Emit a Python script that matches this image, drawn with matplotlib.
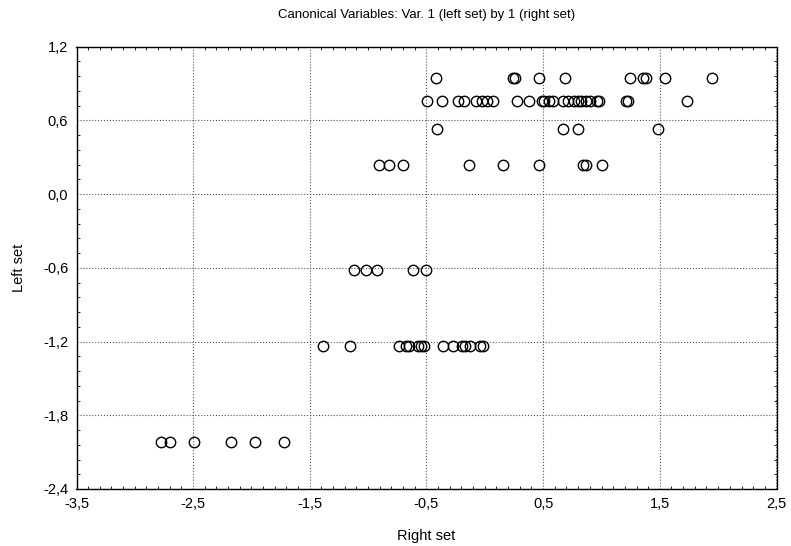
import numpy as np
import matplotlib
matplotlib.use("Agg")
from matplotlib import pyplot as plt
from matplotlib.ticker import MultipleLocator, FuncFormatter

plt.rcParams['font.family'] = ['Liberation Sans', 'DejaVu Sans']

# Canonical scores, one list per left-set level
right_095 = [-0.419, 0.244, 0.258, 0.467, 0.684, 1.244, 1.353, 1.382, 1.547, 1.947]
right_076 = [-0.496, -0.367, -0.230, -0.179, -0.072, -0.024, 0.018, 0.066, 0.278, 0.379,
             0.490, 0.510, 0.550, 0.587, 0.670, 0.717, 0.764, 0.798, 0.824, 0.867,
             0.901, 0.961, 0.978, 1.210, 1.227, 1.733]
right_053 = [-0.407, 0.672, 0.801, 1.482]
right_024 = [-0.907, -0.821, -0.699, -0.136, 0.153, 0.464, 0.844, 0.864, 1.007]
right_m062 = [-1.119, -1.021, -0.927, -0.613, -0.507]
right_m124 = [-1.390, -1.156, -0.733, -0.676, -0.650, -0.570, -0.547, -0.522, -0.361,
              -0.270, -0.193, -0.170, -0.127, -0.042, -0.018]
right_m202 = [-2.776, -2.699, -2.490, -2.178, -1.970, -1.721]

left_levels = [0.942, 0.76, 0.527, 0.236, -0.62, -1.239, -2.019]
right_groups = [right_095, right_076, right_053, right_024, right_m062, right_m124, right_m202]

x_ticks = [-3.5, -2.5, -1.5, -0.5, 0.5, 1.5, 2.5]
y_ticks = [-2.4, -1.8, -1.2, -0.6, 0.0, 0.6, 1.2]

x = np.concatenate([np.array(g) for g in right_groups])
y = np.concatenate([np.full(len(g), lv) for g, lv in zip(right_groups, left_levels)])

fig = plt.figure(figsize=(7.91, 5.46), dpi=100)
ax = fig.add_axes([76.5 / 791, 1 - 489 / 546, 700 / 791, (489 - 46.7) / 546])

ax.plot(x, y, 'o', mfc='none', mec='black', mew=1.0, ms=7.5, zorder=3)

ax.set_xlim(-3.5, 2.5)
ax.set_ylim(-2.4, 1.2)
ax.set_xticks(x_ticks)
ax.set_yticks(y_ticks)
ax.xaxis.set_minor_locator(MultipleLocator(0.1))
ax.yaxis.set_minor_locator(MultipleLocator(0.12))
comma = FuncFormatter(lambda v, p: ('%.1f' % v).replace('.', ',').replace('-0,0', '0,0'))
ax.xaxis.set_major_formatter(comma)
ax.yaxis.set_major_formatter(comma)
ax.tick_params(which='both', direction='in', top=True, right=True, labelsize=10.5)
ax.tick_params(which='major', length=0, pad=6)
ax.tick_params(which='minor', length=2.5, width=0.6)
ax.grid(True, which='major', linestyle=':', color='#555555', linewidth=0.8)
for s in ax.spines.values():
    s.set_linewidth(1.0)

ax.set_title('Canonical Variables: Var. 1 (left set) by 1 (right set)', fontsize=9.5, pad=21)
ax.set_xlabel('Right set', fontsize=10.5, labelpad=13)
ax.set_ylabel('Left set', fontsize=10.5, labelpad=12)

fig.savefig('out.png', dpi=100)
